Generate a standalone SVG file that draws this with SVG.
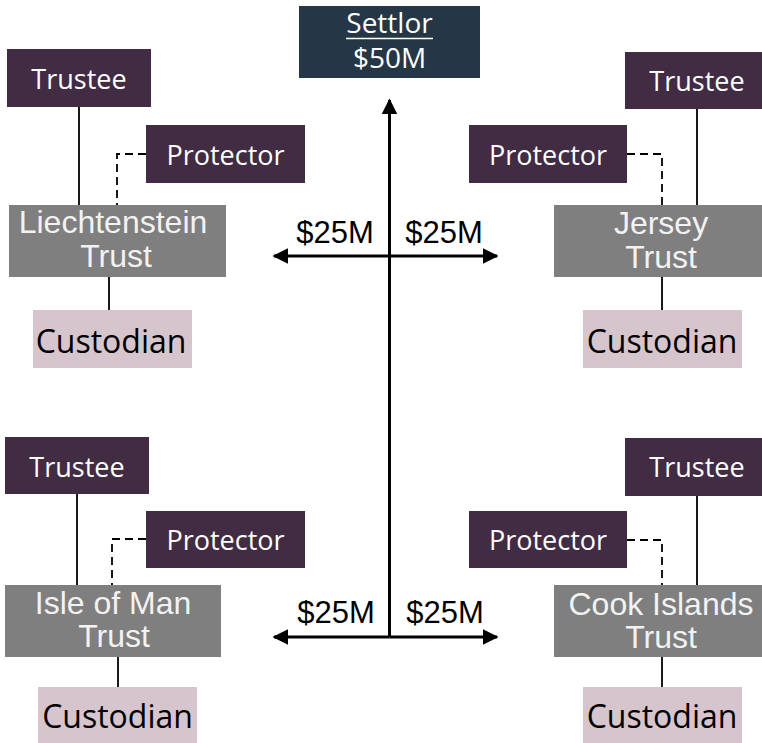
<svg xmlns="http://www.w3.org/2000/svg" width="762" height="743" viewBox="0 0 762 743">
<style>
.bg{fill:#ffffff}
.settlor{fill:#253746}
.role{fill:#412C44}
.trust{fill:#7F7F7F}
.cust{fill:#D6C5CD}
.tw{font-family:"Open Sans","Noto Sans",sans-serif;fill:#ffffff;text-anchor:middle}
.tr{font-size:27px}
.tt{font-family:"Liberation Sans",Arial,sans-serif;font-size:32px;fill:#F2F2F2;text-anchor:middle}
.tc{font-family:"Open Sans","Noto Sans",sans-serif;font-size:32px;fill:#000000;text-anchor:middle}
.amt{font-family:"Liberation Sans",Arial,sans-serif;font-size:31px;fill:#000000;text-anchor:middle}
.solid{stroke:#000;stroke-width:1.8;fill:none}
.dash{stroke:#000;stroke-width:1.8;fill:none;stroke-dasharray:8 5}
.arrow{stroke:#000;stroke-width:3;fill:none}
</style>
<defs>
<marker id="ah" viewBox="0 0 10 10" refX="9" refY="5" markerWidth="5.3" markerHeight="5.3" markerUnits="strokeWidth" orient="auto">
<path d="M0,0 L10,5 L0,10 Z" fill="#000"/>
</marker>
</defs>
<rect class="bg" x="0" y="0" width="762" height="743"/>

<g id="connectors">
<line class="arrow" x1="389.5" y1="637" x2="389.5" y2="100" marker-end="url(#ah)"/>
<line class="arrow" x1="389.5" y1="256" x2="274" y2="256" marker-end="url(#ah)"/>
<line class="arrow" x1="389.5" y1="256" x2="497" y2="256" marker-end="url(#ah)"/>
<line class="arrow" x1="389.5" y1="637" x2="274" y2="637" marker-end="url(#ah)"/>
<line class="arrow" x1="389.5" y1="637" x2="497" y2="637" marker-end="url(#ah)"/>
<line class="solid" x1="79" y1="107" x2="79" y2="205"/>
<polyline class="dash" points="146,154 117,154 117,205"/>
<line class="solid" x1="109" y1="277" x2="109" y2="310"/>
<line class="solid" x1="697" y1="109" x2="697" y2="205"/>
<polyline class="dash" points="627,154 662,154 662,205"/>
<line class="solid" x1="662" y1="277" x2="662" y2="310"/>
<line class="solid" x1="77" y1="494" x2="77" y2="585"/>
<polyline class="dash" points="146,539 112,539 112,585"/>
<line class="solid" x1="118" y1="657" x2="118" y2="687"/>
<line class="solid" x1="697" y1="496" x2="697" y2="585"/>
<polyline class="dash" points="627,540 662,540 662,585"/>
<line class="solid" x1="662" y1="657" x2="662" y2="687"/>
</g>

<g id="amounts">
<text class="amt" x="335" y="243">$25M</text>
<text class="amt" x="444" y="243">$25M</text>
<text class="amt" x="336" y="623">$25M</text>
<text class="amt" x="445" y="623">$25M</text>
</g>

<g id="settlor">
<rect class="settlor" x="299" y="6" width="181" height="72"/>
<text class="tw" x="389.5" y="33" font-size="28">Settlor</text>
<line x1="346" y1="38.5" x2="433" y2="38.5" stroke="#ffffff" stroke-width="1.6"/>
<text class="tw" x="389.5" y="68" font-size="28">$50M</text>
</g>

<g id="trustee-li">
<rect class="role" x="7" y="49" width="144" height="58"/>
<text class="tw tr" x="79" y="89">Trustee</text>
</g>
<g id="protector-li">
<rect class="role" x="146" y="125" width="159" height="58"/>
<text class="tw tr" x="225.5" y="165">Protector</text>
</g>
<g id="trust-li">
<rect class="trust" x="9" y="205" width="217" height="72"/>
<text class="tt" x="113" y="233" font-size="33">Liechtenstein</text>
<text class="tt" x="116" y="267" font-size="33">Trust</text>
</g>
<g id="custodian-li">
<rect class="cust" x="33" y="310" width="159" height="58"/>
<text class="tc" x="111" y="353">Custodian</text>
</g>

<g id="trustee-je">
<rect class="role" x="625" y="52" width="137" height="57"/>
<text class="tw tr" x="697" y="91">Trustee</text>
</g>
<g id="protector-je">
<rect class="role" x="469" y="125" width="158" height="58"/>
<text class="tw tr" x="548" y="165">Protector</text>
</g>
<g id="trust-je">
<rect class="trust" x="554" y="205" width="208" height="72"/>
<text class="tt" x="661" y="234">Jersey</text>
<text class="tt" x="661" y="268">Trust</text>
</g>
<g id="custodian-je">
<rect class="cust" x="583" y="310" width="159" height="58"/>
<text class="tc" x="662" y="353">Custodian</text>
</g>

<g id="trustee-im">
<rect class="role" x="5" y="437" width="144" height="57"/>
<text class="tw tr" x="77" y="477">Trustee</text>
</g>
<g id="protector-im">
<rect class="role" x="146" y="511" width="159" height="57"/>
<text class="tw tr" x="225.5" y="550">Protector</text>
</g>
<g id="trust-im">
<rect class="trust" x="5" y="585" width="216" height="72"/>
<text class="tt" x="113" y="614">Isle of Man</text>
<text class="tt" x="114" y="647">Trust</text>
</g>
<g id="custodian-im">
<rect class="cust" x="38" y="687" width="159" height="56"/>
<text class="tc" x="117.5" y="728">Custodian</text>
</g>

<g id="trustee-ci">
<rect class="role" x="625" y="438" width="137" height="58"/>
<text class="tw tr" x="697" y="477">Trustee</text>
</g>
<g id="protector-ci">
<rect class="role" x="469" y="511" width="158" height="57"/>
<text class="tw tr" x="548" y="550">Protector</text>
</g>
<g id="trust-ci">
<rect class="trust" x="554" y="585" width="208" height="72"/>
<text class="tt" x="661" y="615">Cook Islands</text>
<text class="tt" x="661" y="648">Trust</text>
</g>
<g id="custodian-ci">
<rect class="cust" x="583" y="687" width="159" height="56"/>
<text class="tc" x="662" y="728">Custodian</text>
</g>
</svg>
